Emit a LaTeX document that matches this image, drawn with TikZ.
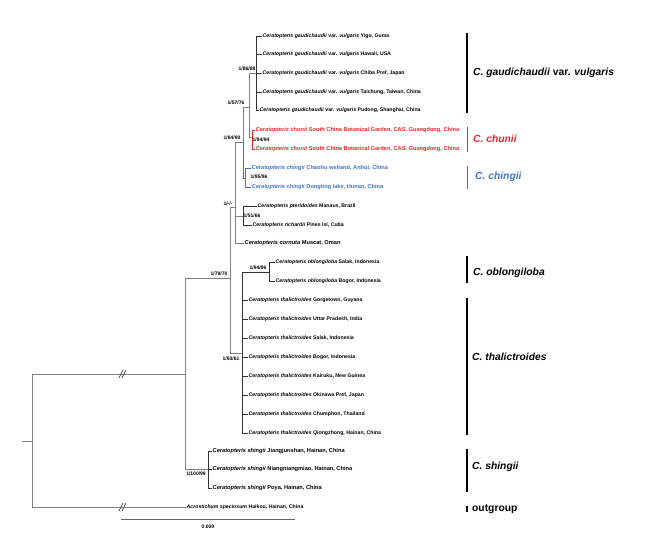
\documentclass[tikz,border=0pt]{standalone}
\usepackage{fontspec}
\setmainfont{Liberation Sans}
\definecolor{cred}{RGB}{232,38,42}
\definecolor{cblue}{RGB}{68,114,196}
\tikzset{
  br/.style={draw=black!50, line width=0.8pt},
  lf/.style={draw=black!80, line width=0.7pt},
  leaf/.style={anchor=west, inner sep=0.5pt, font=\fontsize{5.2}{6}\selectfont\bfseries},
  bigleaf/.style={leaf, font=\fontsize{5.65}{6.5}\selectfont\bfseries},
  supp/.style={inner sep=0pt, font=\fontsize{5}{6}\selectfont\bfseries},
  clade/.style={anchor=west, inner sep=0pt, font=\fontsize{10.3}{12}\selectfont\bfseries\itshape},
  barline/.style={line width=1.3pt},
  brk/.style={draw=black!70, line width=0.8pt}
}
\begin{document}
\begin{tikzpicture}[x=1pt,y=-1pt]
\useasboundingbox (0,0) rectangle (651,539);
% internal nodes
\coordinate (rs) at (22,441);
\coordinate (root) at (32,441);
\coordinate (ing) at (185,374);
\coordinate (n7970) at (230,278);
\coordinate (nShing) at (208,469);
\coordinate (nDash) at (235,207);
\coordinate (nThal) at (242,353);
\coordinate (nObl) at (269,272);
\coordinate (n8490) at (243,142);
\coordinate (n5166) at (243,216);
\coordinate (n5776) at (249,107);
\coordinate (nChing) at (245,178);
\coordinate (nGaud) at (256,73);
\coordinate (nChun) at (252,137);
% leaves
\node[leaf] (g1) at (262,36) {\textit{Ceratopteris gaudichaudii} var. \textit{vulgaris} Yigo, Guma};
\node[leaf] (g2) at (262,54) {\textit{Ceratopteris gaudichaudii} var. \textit{vulgaris} Hawaii, USA};
\node[leaf] (g3) at (262,73) {\textit{Ceratopteris gaudichaudii} var. \textit{vulgaris} Chiba Pref, Japan};
\node[leaf] (g4) at (262,92) {\textit{Ceratopteris gaudichaudii} var. \textit{vulgaris} Taichung, Taiwan, China};
\node[leaf] (g5) at (259,110) {\textit{Ceratopteris gaudichaudii} var. \textit{vulgaris} Pudong, Shanghai, China};
\node[bigleaf, text=cred] (c1) at (255,130) {\textit{Ceratopteris chunii} South China Botanical Garden, CAS. Guangdong, China};
\node[bigleaf, text=cred] (c2) at (255,149) {\textit{Ceratopteris chunii} South China Botanical Garden, CAS. Guangdong, China};
\node[bigleaf, text=cblue] (h1) at (251,168) {\textit{Ceratopteris chingii} Chaohu wetland, Anhui, China};
\node[bigleaf, text=cblue] (h2) at (251,187) {\textit{Ceratopteris chingii} Dongting lake, Hunan, China};
\node[leaf] (p1) at (257,206) {\textit{Ceratopteris pteridoides} Manaus, Brazil};
\node[leaf] (p2) at (252,225) {\textit{Ceratopteris richardii} Pines Isl, Cuba};
\node[bigleaf] (co) at (244,243) {\textit{Ceratopteris cornuta} Muscat, Oman};
\node[leaf] (o1) at (275,262) {\textit{Ceratopteris oblongiloba} Salak, Indonesia};
\node[leaf] (o2) at (275,281) {\textit{Ceratopteris oblongiloba} Bogor, Indonesia};
\node[leaf] (t1) at (248,300) {\textit{Ceratopteris thalictroides} Gorgetown, Guyana};
\node[leaf] (t2) at (248,319) {\textit{Ceratopteris thalictroides} Uttar Pradesh, India};
\node[leaf] (t3) at (248,338) {\textit{Ceratopteris thalictroides} Salak, Indonesia};
\node[leaf] (t4) at (248,357) {\textit{Ceratopteris thalictroides} Bogor, Indonesia};
\node[leaf] (t5) at (248,376) {\textit{Ceratopteris thalictroides} Kairuku, New Guinea};
\node[leaf] (t6) at (248,395) {\textit{Ceratopteris thalictroides} Okinawa Pref, Japan};
\node[leaf] (t7) at (248,414) {\textit{Ceratopteris thalictroides} Chumphon, Thailand};
\node[leaf] (t8) at (248,433) {\textit{Ceratopteris thalictroides} Qiongzhong, Hainan, China};
\node[bigleaf] (s1) at (212,451) {\textit{Ceratopteris shingii} Jiangjunshan, Hainan, China};
\node[bigleaf] (s2) at (212,469) {\textit{Ceratopteris shingii} Niangniangmiao, Hainan, China};
\node[bigleaf] (s3) at (212,488) {\textit{Ceratopteris shingii} Poya, Hainan, China};
\node[leaf] (out) at (186,507) {\textit{Acrostichum speciosum} Haikou, Hainan, China};
% backbone
\draw[br] (rs) -- (root);
\draw[br] (root) |- (ing);
\draw[br] (root) |- (out.west);
\draw[br] (ing) |- (n7970);
\draw[br] (ing) |- (nShing);
\draw[br] (n7970) |- (nDash);
\draw[br] (n7970) |- (nThal);
\draw[br] (nDash) |- (n8490);
\draw[br] (nDash) |- (n5166);
\draw[br] (nDash) |- (co.west);
\draw[br] (n8490) |- (n5776);
\draw[br] (n5776) |- (nGaud);
\draw[br] (n5776) |- (nChun);
\draw[draw=cblue, line width=0.8pt] (n8490) |- (nChing);
% terminal clades
\foreach \l in {g1,g2,g3,g4,g5} \draw[lf] (nGaud) |- (\l.west);
\foreach \l in {c1,c2} \draw[draw=cred, line width=0.7pt] (nChun) |- (\l.west);
\foreach \l in {h1,h2} \draw[draw=cblue, line width=0.7pt] (nChing) |- (\l.west);
\foreach \l in {p1,p2} \draw[lf] (n5166) |- (\l.west);
\draw[lf] (nThal) |- (nObl);
\foreach \l in {o1,o2} \draw[lf] (nObl) |- (\l.west);
\foreach \l in {t1,t2,t3,t4,t5,t6,t7,t8} \draw[lf] (nThal) |- (\l.west);
\foreach \l in {s1,s2,s3} \draw[lf] (nShing) |- (\l.west);
% break marks
\draw[brk] (119,378) -- (123,370) (122,378) -- (126,370);
\draw[brk] (119,511) -- (123,503) (122,511) -- (126,503);
% support values
\node[supp] (b1) at (247,69) {1/86/88};
\node[supp] (b2) at (236,103) {1/57/76};
\node[supp] (b3) at (261,140) {1/94/94};
\node[supp] (b4) at (232,138) {1/84/90};
\node[supp] (b5) at (259,177) {1/95/96};
\node[supp] (b6) at (228,204) {1/-/-};
\node[supp] (b7) at (252,216) {1/51/66};
\node[supp] (b8) at (219,274) {1/79/70};
\node[supp] (b9) at (258,268) {1/94/96};
\node[supp] (b10) at (231,359) {1/93/61};
\node[supp] (b11) at (196,474) {1/100/99};
% scale bar
\coordinate (sbL) at (121,519);
\coordinate (sbR) at (295,519);
\draw[draw=black!60, line width=0.8pt] (sbL) -- (sbR);
\node[supp] (sbT) at (208,527) {0.009};
% clade bars
\coordinate (a1) at (467,33); \coordinate (a2) at (467,113);
\draw[barline] (a1) -- (a2);
\node[clade] (A) at (473,73) {C. gaudichaudii \textup{var.} vulgaris};
\coordinate (b1a) at (467,127); \coordinate (b1b) at (467,152);
\draw[barline, draw=cred, line width=1pt] (b1a) -- (b1b);
\node[clade, text=cred] (B) at (473,139) {C. chunii};
\coordinate (c1a) at (467,166); \coordinate (c1b) at (467,189);
\draw[barline, draw=cblue, line width=1pt] (c1a) -- (c1b);
\node[clade, text=cblue] (C) at (475,177) {C. chingii};
\coordinate (d1a) at (467,256); \coordinate (d1b) at (467,283);
\draw[barline] (d1a) -- (d1b);
\node[clade] (D) at (473,273) {C. oblongiloba};
\coordinate (e1a) at (467,298); \coordinate (e1b) at (467,435);
\draw[barline] (e1a) -- (e1b);
\node[clade] (E) at (472,357) {C. thalictroides};
\coordinate (f1a) at (467,449); \coordinate (f1b) at (467,492);
\draw[barline] (f1a) -- (f1b);
\node[clade] (F) at (472,467) {C. shingii};
\coordinate (g1a) at (467,506); \coordinate (g1b) at (467,512);
\draw[barline] (g1a) -- (g1b);
\node[clade, font=\fontsize{10.3}{12}\selectfont\bfseries] (G) at (472,509) {outgroup};
\end{tikzpicture}
\end{document}
